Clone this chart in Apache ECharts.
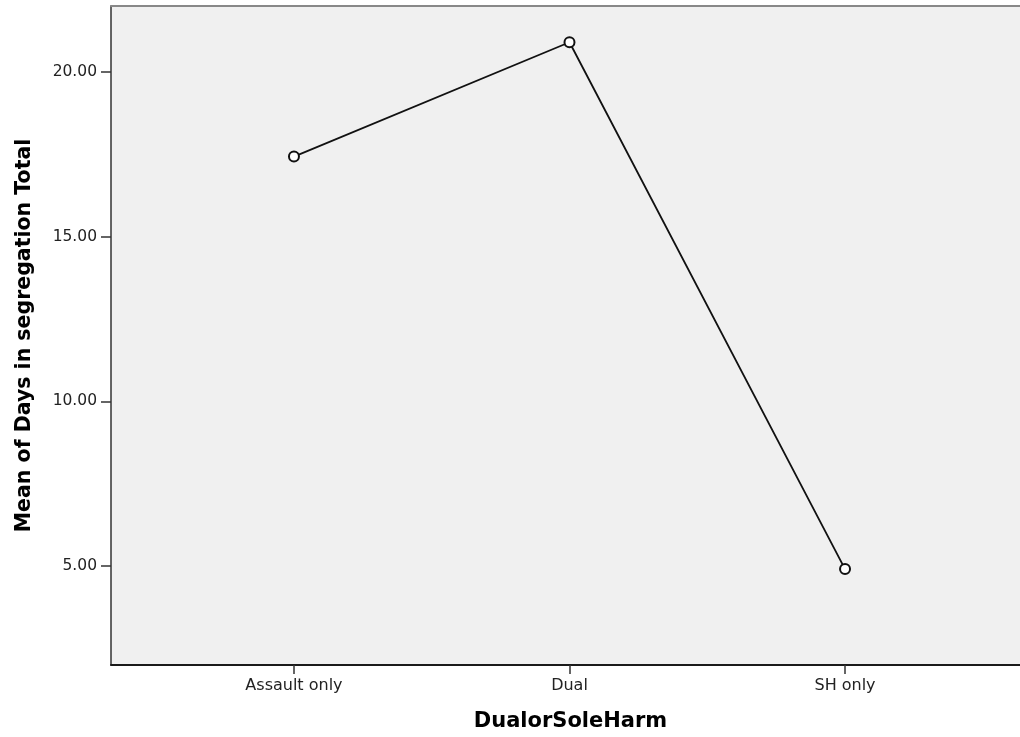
<!DOCTYPE html>
<html>
<head>
<meta charset="utf-8">
<script src="https://cdn.jsdelivr.net/npm/echarts@6/dist/echarts.min.js"></script>
<style>html,body{margin:0;padding:0;background:#fff;}#c{width:1020px;height:737px;}</style>
</head>
<body>
<div id="c"></div>
<script>
const categories = ['Assault only', 'Dual', 'SH only'];
const meanDays = [17.43, 20.90, 4.91];
const yTicks = [5, 10, 15, 20];

const chart = echarts.init(document.getElementById('c'));
const font = 'DejaVu Sans, Verdana, sans-serif';
chart.setOption({
  animation: false,
  grid: {left: 111, right: 0, top: 6, bottom: 70, show: true, backgroundColor: '#f0f0f0', borderWidth: 0},
  xAxis: [{
    type: 'value', min: -0.664, max: 2.635,
    name: 'DualorSoleHarm', nameLocation: 'middle', nameGap: 46,
    nameTextStyle: {fontFamily: font, fontWeight: 'bold', fontSize: 21, color: '#000', padding: [0, 0, 0, 10]},
    axisLine: {show: true, onZero: false, lineStyle: {color: '#1a1a1a', width: 2}},
    axisTick: {show: true, length: 9, customValues: [0, 1, 2], lineStyle: {color: '#333', width: 1.5}},
    axisLabel: {customValues: [0, 1, 2], formatter: v => categories[Math.round(v)], fontFamily: font, fontSize: 16, color: '#222', margin: 13},
    splitLine: {show: false}
  }, {
    type: 'value', position: 'top', min: -0.664, max: 2.635,
    axisLine: {show: true, lineStyle: {color: '#888', width: 2}},
    axisTick: {show: false}, axisLabel: {show: false}, splitLine: {show: false}
  }],
  yAxis: {
    type: 'value', min: 2, max: 22,
    name: 'Mean of Days in segregation Total', nameLocation: 'middle', nameGap: 76,
    nameTextStyle: {fontFamily: font, fontWeight: 'bold', fontSize: 20.5, color: '#000'},
    axisLine: {show: true, onZero: false, lineStyle: {color: '#333', width: 1.5}},
    axisTick: {show: true, length: 10, customValues: yTicks, lineStyle: {color: '#333', width: 1.5}},
    axisLabel: {customValues: yTicks, formatter: v => v.toFixed(2), fontFamily: font, fontSize: 15.5, color: '#222', margin: 14},
    splitLine: {show: false}
  },
  series: [{
    type: 'line',
    data: meanDays.map((v, i) => [i, v]),
    symbol: 'emptyCircle', symbolSize: 10,
    lineStyle: {color: '#111', width: 1.8},
    itemStyle: {color: '#111', borderColor: '#111', borderWidth: 1.3}
  }]
});
</script>
</body>
</html>
